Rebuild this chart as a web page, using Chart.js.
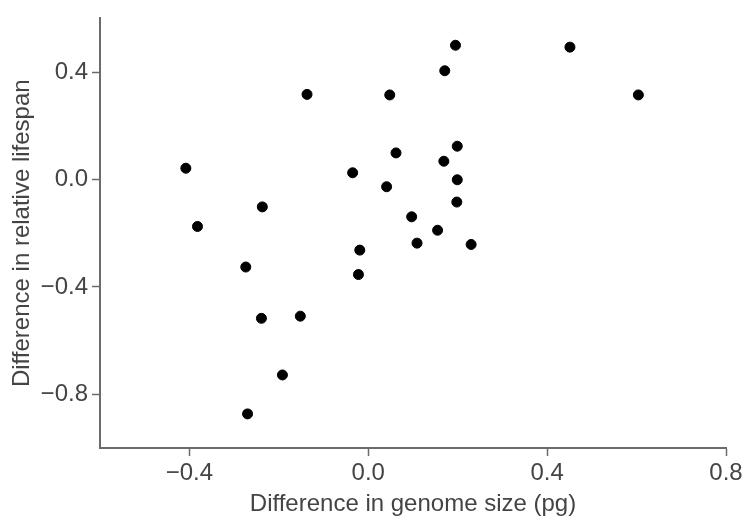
<!DOCTYPE html>
<html lang="en">
<head>
  <meta charset="UTF-8">
  <title>Genome size vs relative lifespan</title>
  <script src="https://cdn.jsdelivr.net/npm/chart.js"></script>
  <style>
    html, body { margin: 0; padding: 0; background: #fff; }
    #wrap { width: 754px; height: 521px; }
  </style>
</head>
<body>
<div id="wrap"><canvas id="scatter"></canvas></div>
<script>
// values
const genomeDiff = [-0.408, -0.382, -0.237, -0.274, -0.239, -0.270, -0.152, -0.192, -0.137,
  -0.035, -0.019, -0.022, 0.048, 0.041, 0.062, 0.097, 0.109, 0.155, 0.169, 0.171,
  0.195, 0.199, 0.199, 0.198, 0.230, 0.451, 0.604];
const lifespanDiff = [0.042, -0.175, -0.102, -0.326, -0.517, -0.873, -0.509, -0.728, 0.317,
  0.025, -0.263, -0.354, 0.315, -0.027, 0.099, -0.139, -0.237, -0.189, 0.068, 0.405,
  0.500, 0.124, -0.001, -0.084, -0.242, 0.493, 0.315];

const xTicks = [-0.4, 0.0, 0.4, 0.8];
const yTicks = [-0.8, -0.4, 0.0, 0.4];

const points = genomeDiff.map((x, i) => ({ x: x, y: lifespanDiff[i] }));

const fmt = v => (v < 0 ? '\u2212' : '') + Math.abs(v).toFixed(1);
const axisGrey = '#6b6b6b';
const textGrey = '#444';
const font = { family: 'Liberation Sans, Arial, sans-serif', size: 24 };

new Chart(document.getElementById('scatter'), {
  type: 'scatter',
  data: {
    datasets: [{
      data: points,
      backgroundColor: '#000',
      borderColor: '#000',
      pointRadius: 5,
      pointHoverRadius: 5
    }]
  },
  options: {
    responsive: true,
    maintainAspectRatio: false,
    animation: false,
    layout: { padding: { top: 17, right: 28, left: 0, bottom: 0 } },
    plugins: { legend: { display: false }, tooltip: { enabled: false } },
    scales: {
      x: {
        min: -0.6, max: 0.8,
        afterBuildTicks: s => { s.ticks = xTicks.map(v => ({ value: v })); },
        afterFit: s => { s.height = 73; },
        border: { display: true, color: axisGrey, width: 2 },
        grid: { drawOnChartArea: false, drawTicks: true, tickLength: 8, color: axisGrey, tickWidth: 1.5 },
        ticks: { callback: v => fmt(v), color: textGrey, font: font, padding: 3, maxRotation: 0 },
        title: { display: true, text: 'Difference in genome size (pg)', color: textGrey, font: font, padding: { top: 0, bottom: 2 } }
      },
      y: {
        min: -1.0, max: 0.6,
        afterBuildTicks: s => { s.ticks = yTicks.map(v => ({ value: v })); },
        afterFit: s => { s.width = 100; },
        border: { display: true, color: axisGrey, width: 2 },
        grid: { drawOnChartArea: false, drawTicks: true, tickLength: 8, color: axisGrey, tickWidth: 1.5 },
        ticks: { callback: v => fmt(v), color: textGrey, font: font, padding: 4 },
        title: { display: true, text: 'Difference in relative lifespan', color: textGrey, font: font, padding: { top: 8, bottom: 0 } }
      }
    }
  }
});
</script>
</body>
</html>
